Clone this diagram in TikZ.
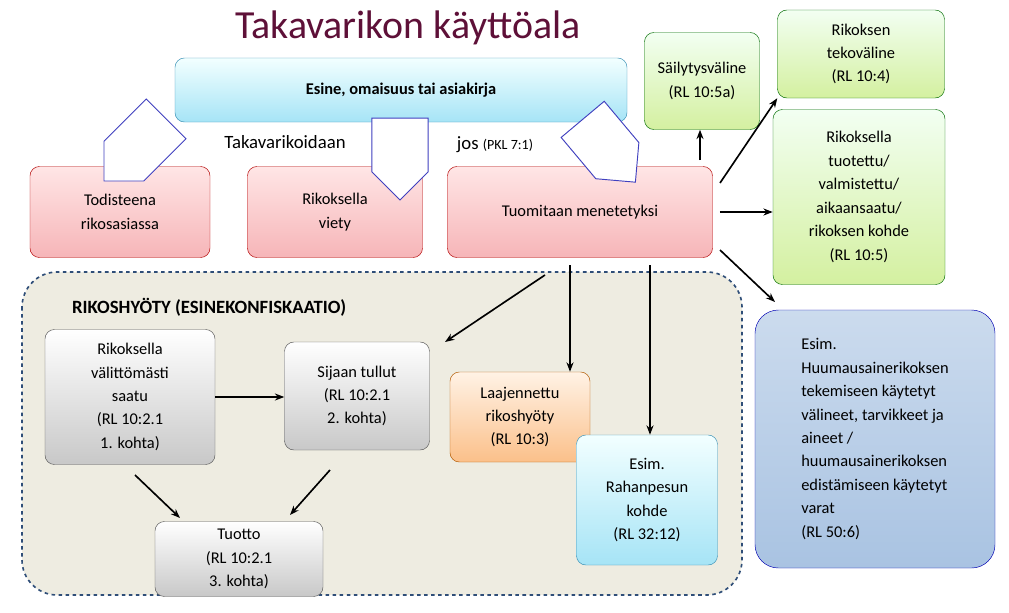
\documentclass[tikz,border=0pt]{standalone}
\usepackage{fontspec}
\setmainfont{Carlito}
\usetikzlibrary{arrows.meta, shapes.arrows, positioning}
\definecolor{titlered}{HTML}{5E1038}
\definecolor{redfill}{HTML}{F6B5B8}
\definecolor{greenfill}{HTML}{D4F0A0}
\definecolor{grayfill}{HTML}{C8C8C8}
\definecolor{orangefill}{HTML}{FBC08A}
\definecolor{cyanfill}{HTML}{A6E4F6}
\definecolor{bluefill}{HTML}{A9C3E2}
\definecolor{beige}{HTML}{EEECE1}
\definecolor{dashblue}{HTML}{2F4E78}
\tikzset{
  box/.style={draw=#1!70!black, rounded corners=8pt, align=center, inner sep=2pt,
    font=\fontsize{14}{20}\selectfont},
  redbox/.style={box=red, top color=red!10, bottom color=redfill},
  greenbox/.style={box=green!60!black, top color=green!5, bottom color=greenfill},
  graybox/.style={box=gray, top color=white, bottom color=grayfill},
  bigarrow/.style={single arrow, draw=blue!50!gray, fill=white, thick,
    minimum width=48pt, single arrow head extend=0pt, single arrow tip angle=90,
    minimum height=#1, inner sep=8pt},
  conn/.style={-{Stealth[length=8pt]}, line width=1.4pt}
}
\begin{document}
\begin{tikzpicture}[x=0.03cm, y=-0.03cm]
  \useasboundingbox (0,0) rectangle (1009,612);
  % rikoshyoty region
  \draw[dashblue, dashed, line width=1.4pt, fill=beige, rounded corners=30pt] (22,272) rectangle (742,595);
  \node[text=titlered, font=\fontsize{34}{40}\selectfont] (title) at (408,28) {Takavarikon käyttöala};
  \node[box=cyan, top color=cyan!5, bottom color=cyanfill, minimum width=452*0.03cm,
    minimum height=64*0.03cm, font=\fontsize{14}{20}\selectfont\bfseries] (esine) at (401,90) {Esine, omaisuus tai asiakirja};
  % red boxes
  \node[redbox, minimum width=180*0.03cm, minimum height=91*0.03cm] (todiste) at (120,212) {Todisteena\\rikosasiassa};
  \node[redbox, minimum width=175*0.03cm, minimum height=91*0.03cm] (viety) at (335,212) {Rikoksella\\viety};
  \node[redbox, minimum width=265*0.03cm, minimum height=91*0.03cm] (menetetyksi) at (580,212) {Tuomitaan menetetyksi};
  % block arrows
  \node[bigarrow=75pt, rotate=-135] (a1) at (145,140) {};
  \node[bigarrow=70pt, rotate=-90] (a2) at (400,145) {};
  \node[bigarrow=70pt, rotate=-50] (a3) at (600,140) {};
  \node[font=\fontsize{16}{20}\selectfont] (takav) at (285,142) {Takavarikoidaan};
  \node[font=\fontsize{16}{20}\selectfont] (jos) at (495,145) {jos {\fontsize{12}{14}\selectfont(PKL 7:1)}};
  % green boxes
  \node[greenbox, minimum width=115*0.03cm, minimum height=97*0.03cm] (sailytys) at (702,81) {Säilytysväline\\(RL 10:5a)};
  \node[greenbox, minimum width=167*0.03cm, minimum height=88*0.03cm] (tekovaline) at (861,54) {Rikoksen\\tekoväline\\(RL 10:4)};
  \node[greenbox, minimum width=172*0.03cm, minimum height=175*0.03cm] (tuotettu) at (859,197) {Rikoksella\\tuotettu/\\valmistettu/\\aikaansaatu/\\rikoksen kohde\\(RL 10:5)};
  \node[box=blue, top color=bluefill!60, bottom color=bluefill, minimum width=240*0.03cm,
    minimum height=258*0.03cm, align=left, rounded corners=20pt] (huume) at (875,439) {Esim.\\Huumausainerikoksen\\tekemiseen käytetyt\\välineet, tarvikkeet ja\\aineet /\\huumausainerikoksen\\edistämiseen käytetyt\\varat\\(RL 50:6)};
  % rikoshyoty contents
  \node[font=\fontsize{16}{20}\selectfont\bfseries, anchor=west] (rikoshyoty) at (68,307) {RIKOSHYÖTY (ESINEKONFISKAATIO)};
  \coordinate (ryhma) at (445,342);
  \node[graybox, minimum width=170*0.03cm, minimum height=135*0.03cm] (valiton) at (130,397) {Rikoksella\\välittömästi\\saatu\\(RL 10:2.1\\1. kohta)};
  \node[graybox, minimum width=145*0.03cm, minimum height=108*0.03cm] (sijaan) at (357,396) {Sijaan tullut\\(RL 10:2.1\\2. kohta)};
  \node[graybox, minimum width=168*0.03cm, minimum height=75*0.03cm] (tuotto) at (239,559) {Tuotto\\(RL 10:2.1\\3. kohta)};
  \node[box=orange, top color=orange!10, bottom color=orangefill, minimum width=140*0.03cm, minimum height=90*0.03cm] (laaj) at (520,417) {Laajennettu\\rikoshyöty\\(RL 10:3)};
  \node[box=cyan, top color=cyan!5, bottom color=cyanfill, minimum width=141*0.03cm, minimum height=130*0.03cm] (rahanpesu) at (647,500) {Esim.\\Rahanpesun\\kohde\\(RL 32:12)};
  % connectors
  \coordinate (m1) at (700,160);
  \draw[conn] (m1) -- (m1 |- sailytys.south);
  \draw[conn] (720,183) -- (tekovaline.south west);
  \draw[conn] ([xshift=6pt]menetetyksi.east) -- (tuotettu.west |- menetetyksi.east);
  \draw[conn] (720,250) -- (775,302);
  \draw[conn] (545,275) -- (ryhma);
  \coordinate (m2) at (570,265);
  \draw[conn] (m2) -- (m2 |- laaj.north);
  \coordinate (m3) at (650,265);
  \draw[conn] (m3) -- (m3 |- rahanpesu.north);
  \draw[conn] (valiton.east) -- (sijaan.west |- valiton.east);
  \draw[conn] (135,475) -- (180,518);
  \draw[conn] (330,470) -- (290,515);
\end{tikzpicture}
\end{document}
